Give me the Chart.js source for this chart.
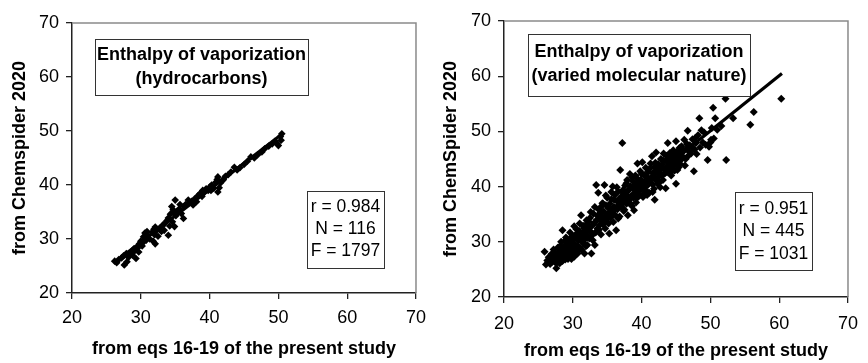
<!DOCTYPE html>
<html>
<head>
<meta charset="utf-8">
<script src="https://cdn.jsdelivr.net/npm/chart.js@4"></script>
<style>
  body { margin: 0; background: #fff; }
  .wrap { display: flex; width: 868px; height: 363px; }
  canvas { display: block; }
</style>
</head>
<body>
<div class="wrap">
  <canvas id="left" width="434" height="363"></canvas>
  <canvas id="right" width="434" height="363"></canvas>
</div>
<script>
const FONT = '"Liberation Sans", Arial, sans-serif';
const axisTicks = [20, 30, 40, 50, 60, 70];
const xTitle = 'from eqs 16-19 of the present study';

// left panel: hydrocarbons
const leftYTitle = 'from Chemspider 2020';
const leftBoxTitle = ['Enthalpy of vaporization', '(hydrocarbons)'];
const leftStats = ['r = 0.984', 'N = 116', 'F = 1797'];
const leftFit = [[26.3, 25.8], [50.5, 49.4]];
const hydrocarbons = [
  [26.2,25.9],[26.5,25.6],[26.8,26.2],[27.2,26.5],[27.6,25.2],[27.5,26.9],[27.9,27.3],[28.2,26.6],
  [28.5,27.4],[28.8,27.0],[29.1,27.8],[29.3,26.4],[29.5,28.3],[29.8,29.1],[29.7,27.6],[30.0,29.6],
  [30.2,28.7],[30.4,30.4],[30.6,31.1],[30.8,29.8],[31.0,30.6],[31.3,30.0],[31.6,31.2],[31.8,29.6],
  [32.0,30.8],[32.1,29.1],[32.1,32.2],[32.3,31.6],[32.5,30.5],[32.7,32.0],[33.0,31.4],[33.2,32.6],
  [33.5,32.9],[33.8,33.4],[34.0,30.7],[34.0,33.9],[34.2,32.4],[34.3,34.6],[34.5,36.0],[34.6,33.2],
  [34.8,34.9],[34.9,32.3],[35.0,37.2],[35.1,34.3],[35.3,35.1],[35.6,35.6],[35.9,34.7],[36.2,33.8],
  [36.3,36.0],[36.5,36.4],[36.9,37.2],[37.1,36.7],[37.4,37.0],[37.8,37.4],[38.1,36.9],[38.3,38.0],
  [38.6,38.4],[38.9,37.9],[39.0,39.0],[39.2,38.6],[39.5,39.3],[39.8,39.0],[40.0,39.6],[40.3,40.0],
  [40.6,39.4],[40.9,40.5],[41.1,41.0],[41.2,38.7],[41.2,41.5],[41.4,39.5],[41.6,40.4],[41.9,40.9],
  [42.3,41.6],[42.7,41.9],[43.1,42.4],[43.6,43.3],[44.0,42.8],[44.4,43.2],[45.0,43.8],[45.5,44.4],
  [46.0,45.2],[46.5,45.0],[47.0,45.6],[47.6,46.1],[48.0,46.7],[48.6,47.2],[49.1,47.6],[49.5,48.1],
  [49.8,47.7],[50.0,47.3],[50.3,49.0],[50.5,49.5],[50.4,48.3],[28.0,25.8],[30.9,31.4],[31.9,31.8],
  [33.4,31.6],[34.7,35.4],[35.7,36.4],[37.6,36.3],[40.2,39.0],[42.0,41.0],[30.3,29.3],[29.0,28.2]
];

// right panel: varied molecular nature
const rightYTitle = 'from ChemSpider 2020';
const rightBoxTitle = ['Enthalpy of vaporization', '(varied molecular nature)'];
const rightStats = ['r = 0.951', 'N = 445', 'F = 1031'];
const rightFit = [[26.0, 26.1], [60.4, 60.5]];
const variedNature = [
  [25.9,28.2],[26.1,25.9],[26.3,26.6],[26.5,27.2],[26.7,26.0],[26.9,27.8],[27.0,26.4],[27.2,28.6],
  [27.3,27.0],[27.5,26.2],[27.6,25.2],[27.7,27.5],[27.8,28.9],[27.9,26.8],[28.0,27.9],[28.1,26.1],
  [28.2,29.3],[28.3,27.2],[28.4,28.4],[28.5,32.1],[28.5,26.5],[28.6,29.0],[28.7,27.7],[28.8,30.1],
  [28.9,26.8],[29.0,28.6],[29.1,27.4],[29.2,29.6],[29.3,26.9],[29.4,28.1],[29.5,30.4],[29.6,27.6],
  [29.7,29.0],[29.8,26.9],[29.9,31.0],[30.0,28.3],[30.1,29.7],[30.2,27.3],[30.2,32.8],[30.3,30.6],
  [30.4,28.9],[30.5,31.4],[30.6,29.3],[30.7,27.9],[30.8,30.2],[30.9,32.0],[31.0,29.0],[31.1,30.9],
  [31.2,34.8],[31.3,28.5],[31.4,31.6],[31.5,29.8],[31.6,32.5],[31.7,27.9],[31.8,30.5],[31.9,33.1],
  [32.0,31.2],[32.1,29.4],[32.2,32.0],[32.3,33.7],[32.4,30.6],[32.5,34.3],[32.6,31.8],[32.7,27.9],
  [32.8,32.9],[32.9,30.3],[33.0,35.1],[33.1,33.4],[33.2,29.4],[33.3,31.7],[33.4,40.3],[33.5,34.0],
  [33.6,32.4],[33.7,38.9],[33.8,35.8],[33.9,33.0],[34.0,36.2],[34.1,31.3],[34.2,34.6],[34.3,37.0],
  [34.4,33.2],[34.5,35.5],[34.6,40.3],[34.7,32.4],[34.8,36.6],[34.9,34.1],[35.0,38.0],[35.1,35.0],
  [35.2,33.3],[35.3,31.5],[35.4,36.9],[35.5,34.4],[35.6,37.7],[35.7,35.6],[35.8,40.0],[35.9,33.6],
  [36.0,36.3],[36.1,38.5],[36.2,34.8],[36.3,32.1],[36.4,37.4],[36.5,35.9],[36.6,39.1],[36.7,36.7],
  [36.8,34.6],[36.9,43.0],[37.0,38.1],[37.1,36.2],[37.2,47.9],[37.3,39.4],[37.4,37.3],[37.5,35.8],
  [37.6,40.2],[37.7,38.6],[37.8,36.9],[37.9,41.2],[38.0,34.8],[38.1,39.3],[38.2,37.6],[38.3,42.3],
  [38.4,40.0],[38.5,38.2],[38.6,36.5],[38.7,41.0],[38.8,39.6],[38.9,35.7],[39.0,38.8],[39.1,42.0],
  [39.2,40.5],[39.3,37.9],[39.4,44.2],[39.5,39.8],[39.6,40.9],[39.7,38.4],[39.8,42.8],[39.9,41.3],
  [40.0,39.5],[40.1,44.4],[40.2,40.7],[40.3,38.6],[40.4,42.1],[40.5,40.0],[40.6,43.4],[40.7,39.2],
  [40.8,41.6],[40.9,40.3],[41.0,42.7],[41.1,38.9],[41.2,41.0],[41.3,44.2],[41.5,45.5],[41.6,40.4],
  [41.7,42.4],[41.8,39.6],[41.9,37.6],[41.9,43.6],[42.0,41.3],[42.1,46.2],[42.2,42.7],[42.3,40.5],
  [42.4,44.1],[42.5,41.8],[42.6,43.2],[42.7,39.9],[42.8,45.0],[42.9,42.2],[43.0,44.0],[43.1,41.2],
  [43.2,46.0],[43.3,43.1],[43.5,39.7],[43.6,44.6],[43.7,42.6],[43.8,47.9],[43.9,45.2],[44.0,43.0],
  [44.1,46.1],[44.2,44.3],[44.3,42.0],[44.4,45.6],[44.5,43.6],[44.6,46.6],[44.7,44.7],[44.8,42.9],
  [44.9,45.9],[45.0,40.5],[45.0,48.2],[45.1,44.2],[45.2,46.3],[45.3,45.0],[45.4,43.5],[45.5,47.0],
  [45.7,44.8],[45.9,46.2],[46.0,45.4],[46.2,48.5],[46.3,43.8],[46.5,46.8],[46.7,50.1],[46.8,45.6],
  [47.0,47.5],[47.2,46.0],[47.4,48.6],[47.6,42.8],[47.7,46.7],[47.9,47.9],[48.0,45.9],[48.2,49.3],
  [48.4,52.4],[48.5,47.1],[48.7,50.2],[48.9,48.0],[49.1,49.8],[49.3,47.6],[49.6,44.8],[49.8,47.2],
  [50.0,48.0],[50.1,48.5],[50.2,50.6],[50.4,54.3],[50.5,48.7],[50.7,52.4],[51.0,50.3],[51.6,51.0],
  [52.2,55.9],[52.3,44.8],[53.3,52.4],[55.8,51.2],[56.3,53.5],[60.3,55.9],
  [27.1,27.7],[27.4,28.1],[27.8,26.3],[28.1,28.8],[28.3,30.0],[28.6,27.3],[28.9,28.3],[29.0,30.8],
  [29.2,27.1],[29.4,29.4],[29.6,31.7],[29.8,28.6],[30.0,30.9],[30.1,27.8],[30.3,29.1],[30.5,32.3],
  [30.6,28.2],[30.8,31.2],[31.0,33.3],[31.1,28.8],[31.3,30.4],[31.5,32.9],[31.7,31.0],[31.9,29.2],
  [32.0,33.9],[32.2,30.8],[32.4,32.6],[32.6,35.4],[32.8,31.2],[33.0,33.2],[33.2,36.3],[33.4,31.8],
  [33.6,34.7],[33.8,32.2],[34.0,35.2],[34.2,33.7],[34.4,36.9],[34.6,34.2],[34.8,38.4],[35.0,33.6],
  [35.2,36.1],[35.4,34.7],[35.6,39.0],[35.8,35.1],[36.0,37.6],[36.2,36.0],[36.4,39.9],[36.6,34.2],
  [36.8,37.8],[37.0,36.6],[37.2,39.0],[37.4,35.6],[37.6,38.2],[37.8,40.6],[38.0,37.1],[38.2,39.5],
  [38.4,36.9],[38.6,41.7],[38.8,38.0],[39.0,40.2],[39.2,37.1],[39.4,41.4],[39.6,39.2],[39.8,40.1],
  [40.0,42.3],[40.2,38.1],[40.4,40.8],[40.6,41.9],[40.8,38.5],[41.0,40.6],[41.2,43.3],[41.4,41.7],
  [41.6,39.0],[41.8,42.6],[42.0,44.3],[42.2,41.1],[42.4,42.9],[42.6,40.8],[42.8,43.6],[43.0,42.0],
  [43.2,44.7],[43.4,42.4],[43.6,45.6],[43.8,43.7],[44.0,44.9],[44.2,42.5],[44.4,44.4],[44.6,45.3],
  [44.8,44.0],[45.0,46.0],[45.2,43.0],[45.4,45.8],[45.6,44.1],[45.8,47.3],[46.0,46.6],[46.4,45.0],
  [46.6,47.7],[46.9,46.4],[47.3,47.2],[47.8,48.8]
];

const toXY = arr => arr.map(p => ({x: p[0], y: p[1]}));

// gray top/right frame + the two text boxes
const framePlugin = {
  id: 'frame',
  beforeDatasetsDraw(chart) {
    const {ctx, chartArea: a} = chart;
    ctx.save();
    ctx.strokeStyle = '#8a8a8a';
    ctx.lineWidth = 1.5;
    ctx.beginPath();
    ctx.moveTo(a.left, a.top);
    ctx.lineTo(a.right, a.top);
    ctx.lineTo(a.right, a.bottom);
    ctx.stroke();
    ctx.restore();
  },
  afterDraw(chart, args, opts) {
    const ctx = chart.ctx;
    opts.boxes.forEach(b => {
      ctx.save();
      ctx.fillStyle = '#fff';
      ctx.fillRect(b.x, b.y, b.w, b.h);
      ctx.strokeStyle = '#333';
      ctx.lineWidth = 1;
      ctx.strokeRect(b.x + 0.5, b.y + 0.5, b.w, b.h);
      ctx.fillStyle = '#000';
      ctx.font = (b.bold ? 'bold ' : '') + b.size + 'px ' + FONT;
      ctx.textAlign = 'center';
      ctx.textBaseline = 'middle';
      b.lines.forEach((t, i) => ctx.fillText(t, b.x + b.w / 2, b.y + b.first + i * b.lh));
      ctx.restore();
    });
  }
};

function makeChart(id, pts, fit, yTitle, g, boxes) {
  return new Chart(document.getElementById(id), {
    type: 'scatter',
    data: {
      datasets: [
        {
          type: 'line',
          data: toXY(fit),
          borderColor: '#000',
          borderWidth: 3.2,
          pointRadius: 0,
          showLine: true,
          fill: false
        },
        {
          data: toXY(pts),
          pointStyle: 'rectRot',
          pointRadius: g.r,
          backgroundColor: '#000',
          borderColor: '#000',
          borderWidth: 0
        }
      ]
    },
    options: {
      responsive: false,
      animation: false,
      layout: { padding: { left: 0, right: g.right, top: g.top, bottom: 0 } },
      plugins: {
        legend: { display: false },
        tooltip: { enabled: false },
        frame: { boxes: boxes }
      },
      scales: {
        x: {
          type: 'linear',
          min: axisTicks[0],
          max: axisTicks[axisTicks.length - 1],
          afterBuildTicks: s => { s.ticks = axisTicks.map(v => ({value: v})); },
          afterFit: s => { s.height = g.xh; },
          border: { color: '#222', width: 1.5 },
          grid: { drawOnChartArea: false, drawTicks: true, tickLength: 6, color: '#222', lineWidth: 1.3 },
          ticks: { color: '#000', padding: g.xlp, font: { family: FONT, size: 18 } },
          title: { display: true, text: xTitle, color: '#000', padding: { top: 0, bottom: g.xtp },
                   font: { family: FONT, size: 18, weight: 'bold' } }
        },
        y: {
          type: 'linear',
          min: axisTicks[0],
          max: axisTicks[axisTicks.length - 1],
          afterBuildTicks: s => { s.ticks = axisTicks.map(v => ({value: v})); },
          afterFit: s => { s.width = g.yw; },
          border: { color: '#222', width: 1.5 },
          grid: { drawOnChartArea: false, drawTicks: true, tickLength: 6, color: '#222', lineWidth: 1.3 },
          ticks: { color: '#000', padding: 7, font: { family: FONT, size: 18 } },
          title: { display: true, text: yTitle, color: '#000', padding: { top: g.ytp, bottom: 0 },
                   font: { family: FONT, size: 18, weight: 'bold' } }
        }
      }
    },
    plugins: [framePlugin]
  });
}

makeChart('left', hydrocarbons, leftFit, leftYTitle,
  { right: 12, top: 23, xh: 70, yw: 72, xtp: 3, ytp: 9, xlp: 8, r: 3.8 },
  [
    { x: 95, y: 39, w: 213, h: 56, bold: true, size: 18, lines: leftBoxTitle, first: 16, lh: 24 },
    { x: 307, y: 191, w: 77, h: 77, bold: false, size: 17.5, lines: leftStats, first: 16, lh: 22 }
  ]);

makeChart('right', variedNature, rightFit, rightYTitle,
  { right: 10, top: 21, xh: 66, yw: 70, xtp: 1, ytp: 6, xlp: 10, r: 4 },
  [
    { x: 94, y: 34, w: 222, h: 62, bold: true, size: 18, lines: rightBoxTitle, first: 18, lh: 24.5 },
    { x: 301, y: 192, w: 77, h: 78, bold: false, size: 17.5, lines: rightStats, first: 17, lh: 22.5 }
  ]);
</script>
</body>
</html>
